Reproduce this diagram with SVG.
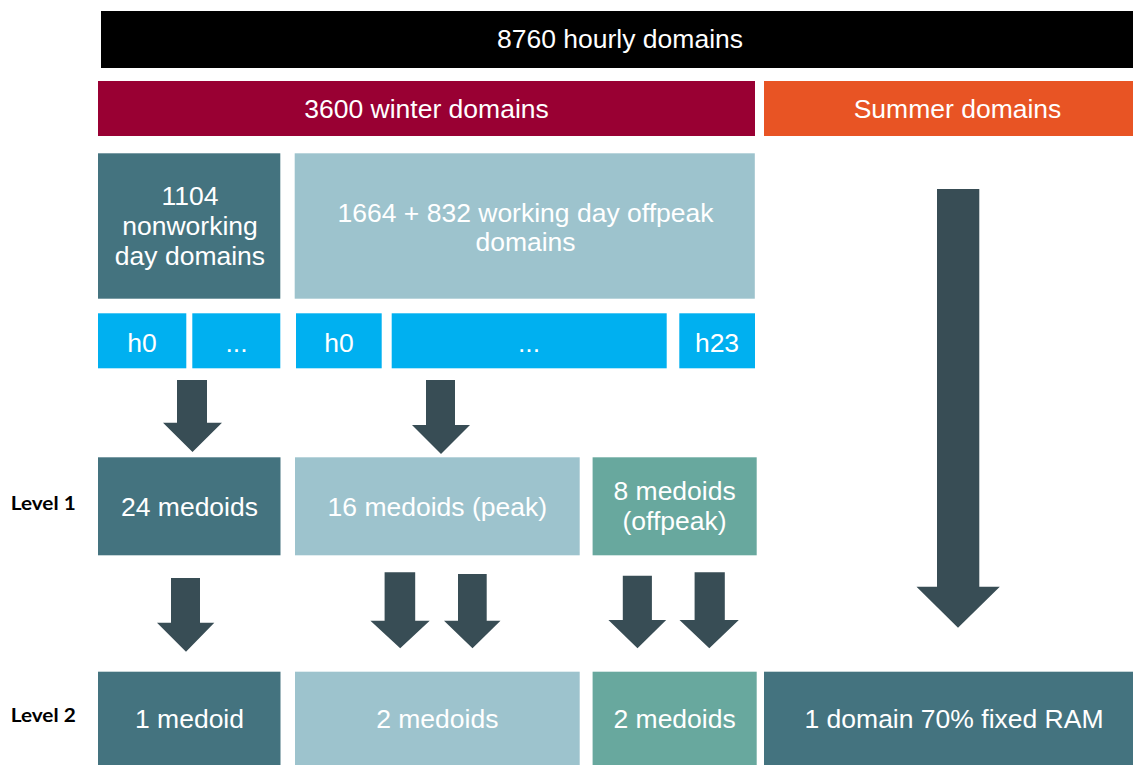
<svg xmlns="http://www.w3.org/2000/svg" width="1133" height="765" viewBox="0 0 1133 765">
<style>
.t{font-family:"Liberation Sans",Arial,sans-serif;font-size:26.5px;fill:#ffffff;text-anchor:middle}
.lvl{font-family:Lato,"Liberation Sans",sans-serif;font-weight:bold;font-size:19px;fill:#000000}
.dark{fill:#44737F}
.light{fill:#9DC3CD}
.green{fill:#68A89E}
.cyan{fill:#00B0F0}
.arr{fill:#384D55}
</style>
<rect width="1133" height="765" fill="#ffffff"/>
<g id="all-domains"><rect x="101" y="11" width="1032" height="57" fill="#000000"/><text class="t" x="620" y="47.5">8760 hourly domains</text></g>
<g id="winter"><rect x="98" y="81" width="657" height="55" fill="#990033"/><text class="t" x="426.5" y="118.3">3600 winter domains</text></g>
<g id="summer"><rect x="764" y="81" width="369" height="55" fill="#E85424"/><text class="t" x="957.5" y="118.3">Summer domains</text></g>
<g id="nonworking"><rect class="dark" x="98" y="153.3" width="182.3" height="145.4"/><text class="t" x="190" y="205">1104</text><text class="t" x="190" y="235">nonworking</text><text class="t" x="190" y="265">day domains</text></g>
<g id="working"><rect class="light" x="294.7" y="153.3" width="460.1" height="145.4"/><text class="t" x="525.5" y="221.7">1664 + 832 working day offpeak</text><text class="t" x="525.5" y="251">domains</text></g>
<g id="nw-h0"><rect class="cyan" x="98" y="313.3" width="88.3" height="55"/><text class="t" x="142" y="351.7">h0</text></g>
<g id="nw-dots"><rect class="cyan" x="192.3" y="313.3" width="88" height="55"/><text class="t" x="236.5" y="351.7">...</text></g>
<g id="w-h0"><rect class="cyan" x="296" y="313.3" width="85.7" height="55"/><text class="t" x="339" y="351.7">h0</text></g>
<g id="w-dots"><rect class="cyan" x="391.7" y="313.3" width="275" height="55"/><text class="t" x="529" y="351.7">...</text></g>
<g id="w-h23"><rect class="cyan" x="679.3" y="313.3" width="75.7" height="55"/><text class="t" x="717" y="351.7">h23</text></g>
<g id="level1-label"><text class="lvl" x="10.7" y="510" textLength="65" lengthAdjust="spacingAndGlyphs">Level 1</text></g>
<g id="level2-label"><text class="lvl" x="10.7" y="721.7" textLength="65" lengthAdjust="spacingAndGlyphs">Level 2</text></g>
<g id="l1-24"><rect class="dark" x="98" y="457.3" width="182.5" height="98"/><text class="t" x="189.5" y="515.7">24 medoids</text></g>
<g id="l1-16"><rect class="light" x="295" y="457.3" width="284.7" height="98"/><text class="t" x="437.3" y="515.7">16 medoids (peak)</text></g>
<g id="l1-8"><rect class="green" x="592.6" y="457.3" width="164.1" height="98"/><text class="t" x="674.6" y="500">8 medoids</text><text class="t" x="674.6" y="530">(offpeak)</text></g>
<g id="l2-1"><rect class="dark" x="98" y="671.7" width="182.5" height="94"/><text class="t" x="189.5" y="728.3">1 medoid</text></g>
<g id="l2-2a"><rect class="light" x="295" y="671.7" width="284.7" height="94"/><text class="t" x="437.3" y="728.3">2 medoids</text></g>
<g id="l2-2b"><rect class="green" x="592.6" y="671.7" width="164.1" height="94"/><text class="t" x="674.6" y="728.3">2 medoids</text></g>
<g id="l2-summer"><rect class="dark" x="764" y="671.7" width="369" height="94"/><text class="t" x="954" y="728.3">1 domain 70% fixed RAM</text></g>
<g id="connectors">
<polygon class="arr" points="177,380 207,380 207,422.7 222,422.7 192.5,452 163,422.7 177,422.7"/>
<polygon class="arr" points="426,380 455,380 455,425 470,425 441,454 412,425 426,425"/>
<polygon class="arr" points="171,578 200,578 200,622.7 214.3,622.7 186,651.7 157,622.7 171,622.7"/>
<polygon class="arr" points="384.6,572.3 415.2,572.3 415.2,620.7 429.7,620.7 400.2,648.3 370.4,620.7 384.6,620.7"/>
<polygon class="arr" points="458,574 486.7,574 486.7,620.7 500.5,620.7 472.5,648.3 444,620.7 458,620.7"/>
<polygon class="arr" points="622.8,575.7 651.9,575.7 651.9,620 666.2,620 637.5,648.3 608.4,620 622.8,620"/>
<polygon class="arr" points="694.6,572.3 724.8,572.3 724.8,620 738.8,620 709.3,648.3 679.5,620 694.6,620"/>
<polygon class="arr" points="937,189 979.3,189 979.3,586.7 999.8,586.7 958,627.7 916.5,586.7 937,586.7"/>
</g>
</svg>
